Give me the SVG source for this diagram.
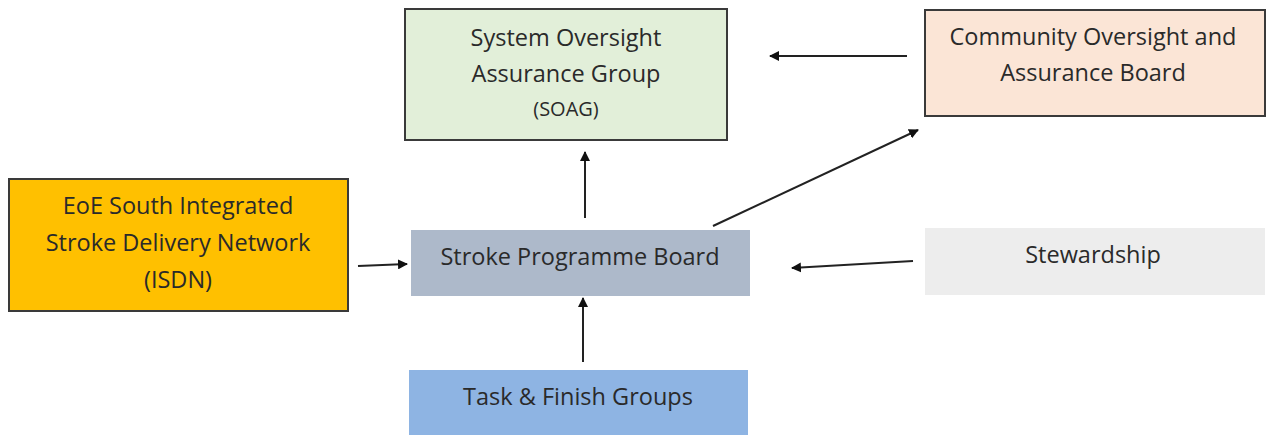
<svg xmlns="http://www.w3.org/2000/svg" width="1270" height="435" viewBox="0 0 1270 435">
<style>
text{font-family:"Open Sans","Liberation Sans",sans-serif;font-size:23.5px;fill:#2a2a2a;text-anchor:middle}
.small{font-size:20px}
.b{stroke:#3a3a3a;stroke-width:2}
.c{stroke:#222;stroke-width:2;fill:none;marker-end:url(#ah)}
</style>
<defs>
<marker id="ah" markerWidth="10" markerHeight="10" refX="9" refY="5" orient="auto" markerUnits="userSpaceOnUse" viewBox="0 0 10 10">
<path d="M0,0 L10,5 L0,10 z" fill="#111"/>
</marker>
</defs>
<rect width="1270" height="435" fill="#fff"/>
<g id="soag">
<rect class="b" x="405" y="9" width="322" height="131" fill="#e2efd9"/>
<text x="566" y="46">System Oversight</text>
<text x="566" y="82">Assurance Group</text>
<text class="small" x="566" y="116">(SOAG)</text>
</g>
<g id="community">
<rect class="b" x="925" y="10" width="340" height="106" fill="#fbe5d6"/>
<text x="1093" y="45">Community Oversight and</text>
<text x="1093" y="81">Assurance Board</text>
</g>
<g id="isdn">
<rect class="b" x="9" y="179" width="339" height="132" fill="#ffc000"/>
<text x="178" y="214">EoE South Integrated</text>
<text x="178" y="251">Stroke Delivery Network</text>
<text x="178" y="288">(ISDN)</text>
</g>
<g id="spb">
<rect x="411" y="230" width="339" height="66" fill="#adb9ca"/>
<text x="580" y="265">Stroke Programme Board</text>
</g>
<g id="stewardship">
<rect x="925" y="228" width="340" height="67" fill="#ededed"/>
<text x="1093" y="263">Stewardship</text>
</g>
<g id="task">
<rect x="409" y="370" width="339" height="65" fill="#8eb4e3"/>
<text x="578" y="405">Task &amp; Finish Groups</text>
</g>
<g id="connectors">
<line class="c" x1="907" y1="56" x2="770" y2="56"/>
<line class="c" x1="585" y1="218" x2="585" y2="152"/>
<line class="c" x1="713" y1="226" x2="918" y2="130"/>
<line class="c" x1="358" y1="266" x2="407" y2="264"/>
<line class="c" x1="913" y1="261" x2="792" y2="268"/>
<line class="c" x1="583" y1="362" x2="583" y2="298"/>
</g>
</svg>
